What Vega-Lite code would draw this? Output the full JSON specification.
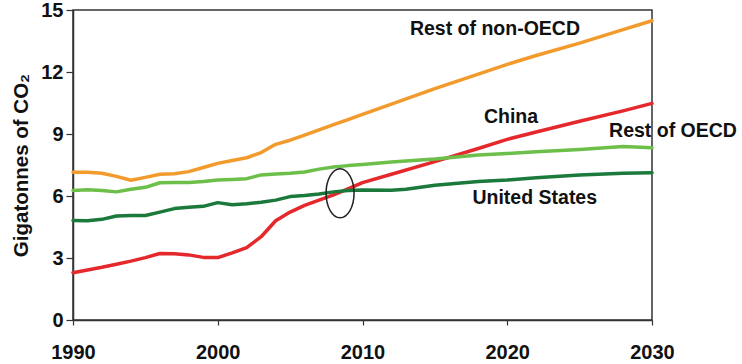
{
  "$schema": "https://vega.github.io/schema/vega-lite/v6.json",
  "autosize": "none",
  "width": 579,
  "height": 310,
  "padding": {"left": 73, "top": 10, "right": 90, "bottom": 44},
  "background": "white",
  "config": {
    "view": {"stroke": "#333", "strokeWidth": 1.5},
    "font": "Liberation Sans"
  },
  "datasets": {
    "series": [
      {"year": 1990, "value": 7.15, "region": "Rest of non-OECD"},
      {"year": 1991, "value": 7.15, "region": "Rest of non-OECD"},
      {"year": 1992, "value": 7.1, "region": "Rest of non-OECD"},
      {"year": 1993, "value": 6.95, "region": "Rest of non-OECD"},
      {"year": 1994, "value": 6.76, "region": "Rest of non-OECD"},
      {"year": 1995, "value": 6.9, "region": "Rest of non-OECD"},
      {"year": 1996, "value": 7.05, "region": "Rest of non-OECD"},
      {"year": 1997, "value": 7.08, "region": "Rest of non-OECD"},
      {"year": 1998, "value": 7.18, "region": "Rest of non-OECD"},
      {"year": 1999, "value": 7.38, "region": "Rest of non-OECD"},
      {"year": 2000, "value": 7.58, "region": "Rest of non-OECD"},
      {"year": 2001, "value": 7.72, "region": "Rest of non-OECD"},
      {"year": 2002, "value": 7.85, "region": "Rest of non-OECD"},
      {"year": 2003, "value": 8.1, "region": "Rest of non-OECD"},
      {"year": 2004, "value": 8.5, "region": "Rest of non-OECD"},
      {"year": 2005, "value": 8.7, "region": "Rest of non-OECD"},
      {"year": 2006, "value": 8.95, "region": "Rest of non-OECD"},
      {"year": 2007, "value": 9.2, "region": "Rest of non-OECD"},
      {"year": 2008, "value": 9.45, "region": "Rest of non-OECD"},
      {"year": 2009, "value": 9.7, "region": "Rest of non-OECD"},
      {"year": 2010, "value": 9.95, "region": "Rest of non-OECD"},
      {"year": 2012, "value": 10.45, "region": "Rest of non-OECD"},
      {"year": 2015, "value": 11.2, "region": "Rest of non-OECD"},
      {"year": 2018, "value": 11.9, "region": "Rest of non-OECD"},
      {"year": 2020, "value": 12.37, "region": "Rest of non-OECD"},
      {"year": 2022, "value": 12.8, "region": "Rest of non-OECD"},
      {"year": 2025, "value": 13.4, "region": "Rest of non-OECD"},
      {"year": 2028, "value": 14.05, "region": "Rest of non-OECD"},
      {"year": 2030, "value": 14.48, "region": "Rest of non-OECD"},

      {"year": 1990, "value": 2.29, "region": "China"},
      {"year": 1991, "value": 2.42, "region": "China"},
      {"year": 1992, "value": 2.55, "region": "China"},
      {"year": 1993, "value": 2.7, "region": "China"},
      {"year": 1994, "value": 2.85, "region": "China"},
      {"year": 1995, "value": 3.02, "region": "China"},
      {"year": 1996, "value": 3.22, "region": "China"},
      {"year": 1997, "value": 3.2, "region": "China"},
      {"year": 1998, "value": 3.15, "region": "China"},
      {"year": 1999, "value": 3.03, "region": "China"},
      {"year": 2000, "value": 3.02, "region": "China"},
      {"year": 2001, "value": 3.25, "region": "China"},
      {"year": 2002, "value": 3.5, "region": "China"},
      {"year": 2003, "value": 4.03, "region": "China"},
      {"year": 2004, "value": 4.8, "region": "China"},
      {"year": 2005, "value": 5.22, "region": "China"},
      {"year": 2006, "value": 5.55, "region": "China"},
      {"year": 2007, "value": 5.8, "region": "China"},
      {"year": 2008, "value": 6.05, "region": "China"},
      {"year": 2009, "value": 6.35, "region": "China"},
      {"year": 2010, "value": 6.65, "region": "China"},
      {"year": 2012, "value": 7.05, "region": "China"},
      {"year": 2015, "value": 7.66, "region": "China"},
      {"year": 2018, "value": 8.3, "region": "China"},
      {"year": 2020, "value": 8.74, "region": "China"},
      {"year": 2022, "value": 9.1, "region": "China"},
      {"year": 2025, "value": 9.62, "region": "China"},
      {"year": 2028, "value": 10.12, "region": "China"},
      {"year": 2030, "value": 10.48, "region": "China"},

      {"year": 1990, "value": 6.27, "region": "Rest of OECD"},
      {"year": 1991, "value": 6.3, "region": "Rest of OECD"},
      {"year": 1992, "value": 6.27, "region": "Rest of OECD"},
      {"year": 1993, "value": 6.2, "region": "Rest of OECD"},
      {"year": 1994, "value": 6.33, "region": "Rest of OECD"},
      {"year": 1995, "value": 6.42, "region": "Rest of OECD"},
      {"year": 1996, "value": 6.64, "region": "Rest of OECD"},
      {"year": 1997, "value": 6.65, "region": "Rest of OECD"},
      {"year": 1998, "value": 6.65, "region": "Rest of OECD"},
      {"year": 1999, "value": 6.7, "region": "Rest of OECD"},
      {"year": 2000, "value": 6.77, "region": "Rest of OECD"},
      {"year": 2001, "value": 6.8, "region": "Rest of OECD"},
      {"year": 2002, "value": 6.84, "region": "Rest of OECD"},
      {"year": 2003, "value": 7.02, "region": "Rest of OECD"},
      {"year": 2004, "value": 7.06, "region": "Rest of OECD"},
      {"year": 2005, "value": 7.1, "region": "Rest of OECD"},
      {"year": 2006, "value": 7.16, "region": "Rest of OECD"},
      {"year": 2007, "value": 7.3, "region": "Rest of OECD"},
      {"year": 2008, "value": 7.4, "region": "Rest of OECD"},
      {"year": 2009, "value": 7.47, "region": "Rest of OECD"},
      {"year": 2010, "value": 7.52, "region": "Rest of OECD"},
      {"year": 2012, "value": 7.65, "region": "Rest of OECD"},
      {"year": 2015, "value": 7.79, "region": "Rest of OECD"},
      {"year": 2018, "value": 7.98, "region": "Rest of OECD"},
      {"year": 2020, "value": 8.06, "region": "Rest of OECD"},
      {"year": 2022, "value": 8.14, "region": "Rest of OECD"},
      {"year": 2025, "value": 8.25, "region": "Rest of OECD"},
      {"year": 2028, "value": 8.39, "region": "Rest of OECD"},
      {"year": 2030, "value": 8.34, "region": "Rest of OECD"},

      {"year": 1990, "value": 4.81, "region": "United States"},
      {"year": 1991, "value": 4.8, "region": "United States"},
      {"year": 1992, "value": 4.87, "region": "United States"},
      {"year": 1993, "value": 5.03, "region": "United States"},
      {"year": 1994, "value": 5.06, "region": "United States"},
      {"year": 1995, "value": 5.06, "region": "United States"},
      {"year": 1996, "value": 5.22, "region": "United States"},
      {"year": 1997, "value": 5.39, "region": "United States"},
      {"year": 1998, "value": 5.45, "region": "United States"},
      {"year": 1999, "value": 5.5, "region": "United States"},
      {"year": 2000, "value": 5.68, "region": "United States"},
      {"year": 2001, "value": 5.58, "region": "United States"},
      {"year": 2002, "value": 5.62, "region": "United States"},
      {"year": 2003, "value": 5.7, "region": "United States"},
      {"year": 2004, "value": 5.8, "region": "United States"},
      {"year": 2005, "value": 5.97, "region": "United States"},
      {"year": 2006, "value": 6.02, "region": "United States"},
      {"year": 2007, "value": 6.1, "region": "United States"},
      {"year": 2008, "value": 6.2, "region": "United States"},
      {"year": 2009, "value": 6.27, "region": "United States"},
      {"year": 2010, "value": 6.29, "region": "United States"},
      {"year": 2012, "value": 6.28, "region": "United States"},
      {"year": 2013, "value": 6.33, "region": "United States"},
      {"year": 2015, "value": 6.52, "region": "United States"},
      {"year": 2018, "value": 6.7, "region": "United States"},
      {"year": 2020, "value": 6.77, "region": "United States"},
      {"year": 2022, "value": 6.88, "region": "United States"},
      {"year": 2025, "value": 7.02, "region": "United States"},
      {"year": 2028, "value": 7.1, "region": "United States"},
      {"year": 2030, "value": 7.13, "region": "United States"}
    ],
    "labels": [
      {"year": 2019.15, "value": 14.08, "text": "Rest of non-OECD"},
      {"year": 2020.26, "value": 9.82, "text": "China"},
      {"year": 2031.45, "value": 9.14, "text": "Rest of OECD"},
      {"year": 2021.9, "value": 5.9, "text": "United States"}
    ],
    "highlight": [
      {"year": 2008.45, "value": 6.13}
    ]
  },
  "layer": [
    {
      "data": {"name": "series"},
      "mark": {"type": "line", "strokeWidth": 3.5, "strokeCap": "round", "strokeJoin": "round"},
      "encoding": {
        "x": {
          "field": "year", "type": "quantitative",
          "scale": {"domain": [1990, 2030], "nice": false, "zero": false},
          "axis": {
            "values": [1990, 2000, 2010, 2020, 2030],
            "format": "d",
            "title": null,
            "grid": false,
            "domainColor": "#333",
            "domainWidth": 1.5,
            "tickColor": "#333",
            "tickSize": 5,
            "tickWidth": 1.2,
            "labelFont": "Liberation Sans",
            "labelFontWeight": "bold",
            "labelFontSize": 20,
            "labelColor": "#111",
            "labelPadding": 17,
            "labelFlush": false
          }
        },
        "y": {
          "field": "value", "type": "quantitative",
          "scale": {"domain": [0, 15], "nice": false},
          "axis": {
            "values": [0, 3, 6, 9, 12, 15],
            "title": "Gigatonnes  of  CO₂",
            "titleFont": "Liberation Sans",
            "titleFontWeight": "bold",
            "titleFontSize": 20.5,
            "titleColor": "#111",
            "titlePadding": 9,
            "grid": false,
            "domainColor": "#333",
            "domainWidth": 1.5,
            "tickColor": "#333",
            "tickSize": 7,
            "tickWidth": 1.2,
            "labelFont": "Liberation Sans",
            "labelFontWeight": "bold",
            "labelFontSize": 20,
            "labelColor": "#111",
            "labelPadding": 3,
            "labelFlush": false
          }
        },
        "color": {
          "field": "region", "type": "nominal",
          "scale": {
            "domain": ["Rest of non-OECD", "China", "Rest of OECD", "United States"],
            "range": ["#F39A2C", "#E4282B", "#6CBF48", "#1B7A3B"]
          },
          "legend": null
        }
      }
    },
    {
      "data": {"name": "highlight"},
      "mark": {
        "type": "point",
        "shape": "M0,-1 A0.571,1 0 1,1 0,1 A0.571,1 0 1,1 0,-1 Z",
        "size": 2401,
        "filled": false,
        "stroke": "#222",
        "strokeWidth": 1.5,
        "opacity": 1
      },
      "encoding": {
        "x": {"field": "year", "type": "quantitative"},
        "y": {"field": "value", "type": "quantitative"}
      }
    },
    {
      "data": {"name": "labels"},
      "mark": {
        "type": "text",
        "font": "Liberation Sans",
        "fontWeight": "bold",
        "fontSize": 19.5,
        "color": "#111",
        "align": "center",
        "baseline": "middle",
        "clip": false
      },
      "encoding": {
        "x": {"field": "year", "type": "quantitative"},
        "y": {"field": "value", "type": "quantitative"},
        "text": {"field": "text"}
      }
    }
  ]
}
